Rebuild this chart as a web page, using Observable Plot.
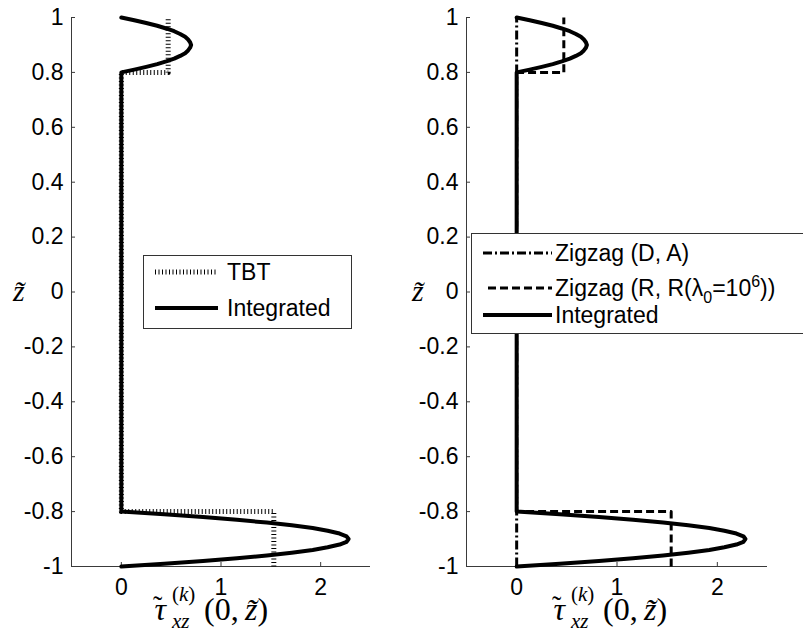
<!DOCTYPE html>
<html>
<head>
<meta charset="utf-8">
<script src="https://cdn.jsdelivr.net/npm/d3@7"></script>
<script src="https://cdn.jsdelivr.net/npm/@observablehq/plot@0.6"></script>
<style>
  body { margin: 0; background: #fff; }
  #wrap { position: relative; width: 803px; height: 634px; overflow: hidden; }
  .panel { position: absolute; top: 0; }
  #overlay { position: absolute; left: 0; top: 0; pointer-events: none; }
</style>
</head>
<body>
<div id="wrap"></div>
<script>
// ---- data ----
const zTicks = [-1, -0.8, -0.6, -0.4, -0.2, 0, 0.2, 0.4, 0.6, 0.8, 1];
const zTickLabels = ["-1", "-0.8", "-0.6", "-0.4", "-0.2", "0", "0.2", "0.4", "0.6", "0.8", "1"];
const xTicks = [0, 1, 2];
const xTickLabels = ["0", "1", "2"];

// Integrated solution: z~ positions and shear stress values
const intZ = [
  -1.00, -0.99, -0.98, -0.97, -0.96, -0.95, -0.94, -0.93, -0.92, -0.91, -0.90,
  -0.89, -0.88, -0.87, -0.86, -0.85, -0.84, -0.83, -0.82, -0.81, -0.80,
  0.80, 0.81, 0.82, 0.83, 0.84, 0.85, 0.86, 0.87, 0.88, 0.89, 0.90,
  0.91, 0.92, 0.93, 0.94, 0.95, 0.96, 0.97, 0.98, 0.99, 1.00
];
const intTau = [
  0, 0.43, 0.82, 1.16, 1.46, 1.71, 1.92, 2.07, 2.19, 2.26, 2.28,
  2.26, 2.19, 2.07, 1.92, 1.71, 1.46, 1.16, 0.82, 0.43, 0,
  0, 0.13, 0.25, 0.36, 0.45, 0.53, 0.59, 0.64, 0.67, 0.69, 0.70,
  0.69, 0.67, 0.64, 0.59, 0.53, 0.45, 0.36, 0.25, 0.13, 0
];

// TBT (left panel, dotted)
const tbtZ = [-1, -0.8, -0.8, 0.8, 0.8, 1];
const tbtTau = [1.53, 1.53, 0, 0, 0.47, 0.47];

// Zigzag (D, A) (right panel, dash-dot)
const zzdaZ = [-1, 1];
const zzdaTau = [0, 0];

// Zigzag (R, R(lambda0=1e6)) (right panel, dashed)
const zzrrZ = [-1, -0.8, -0.8, 0.8, 0.8, 1];
const zzrrTau = [1.54, 1.54, 0, 0, 0.47, 0.47];

// legend labels
const leftLegend = ["TBT", "Integrated"];
const rightLegend = ["Zigzag (D, A)", "Zigzag (R, R(λ0=10^6))", "Integrated"];

const toRows = (zs, ts) => zs.map((zt, i) => ({ zt, tau: ts[i] }));
const intRows = toRows(intZ, intTau);
const tbtRows = toRows(tbtZ, tbtTau);
const zzdaRows = toRows(zzdaZ, zzdaTau);
const zzrrRows = toRows(zzrrZ, zzrrTau);

const axisColor = "#3a3a3a";
const sansFont = "Arial, 'Liberation Sans', sans-serif";
const serifFont = "'Liberation Serif', 'DejaVu Serif', serif";
const DOT = "1,2.5", DASH = "8,4", DASHDOT = "9,3,2,3";

function panel(opts, seriesMarks) {
  return Plot.plot({
    width: opts.width,
    height: 634,
    marginLeft: opts.marginLeft,
    marginRight: opts.marginRight,
    marginTop: 17,
    marginBottom: 68,
    x: { domain: [-0.5, 2.5] },
    y: { domain: [-1, 1] },
    style: { fontFamily: sansFont, fontSize: "23px", color: "#000", background: "transparent" },
    marks: [
      Plot.ruleX([-0.5], { stroke: axisColor, strokeWidth: 1 }),
      Plot.ruleY([-1], { stroke: axisColor, strokeWidth: 1 }),
      Plot.axisY(zTicks, { tickSize: -4, tickPadding: 12, stroke: axisColor, fill: "#000", tickFormat: (d) => zTickLabels[zTicks.indexOf(d)], label: null }),
      Plot.axisX(xTicks, { tickSize: -4, tickPadding: 16, stroke: axisColor, fill: "#000", tickFormat: (d) => xTickLabels[xTicks.indexOf(d)], label: null }),
      ...seriesMarks
    ]
  });
}

const wrap = document.getElementById("wrap");

const left = panel({ width: 400, marginLeft: 71, marginRight: 30 }, [
  Plot.line(intRows, { x: "tau", y: "zt", stroke: "#000", strokeWidth: 4, strokeLinejoin: "round" }),
  Plot.line(tbtRows, { x: "tau", y: "zt", stroke: "#000", strokeWidth: 5, strokeDasharray: DOT, strokeLinecap: "butt" })
]);
left.classList.add("panel");
left.style.left = "0px";
wrap.appendChild(left);

const right = panel({ width: 403, marginLeft: 66, marginRight: 36 }, [
  Plot.line(zzdaRows, { x: "tau", y: "zt", stroke: "#000", strokeWidth: 3, strokeDasharray: DASHDOT, strokeLinecap: "butt" }),
  Plot.line(zzrrRows, { x: "tau", y: "zt", stroke: "#000", strokeWidth: 3, strokeDasharray: DASH, strokeLinecap: "butt" }),
  Plot.line(intRows, { x: "tau", y: "zt", stroke: "#000", strokeWidth: 4, strokeLinejoin: "round" })
]);
right.classList.add("panel");
right.style.left = "400px";
wrap.appendChild(right);

// ---- overlay: legends and axis titles ----
const svg = d3.select(wrap).append("svg")
  .attr("id", "overlay").attr("width", 803).attr("height", 634);

function drawLegend(box, items) {
  const g = svg.append("g");
  g.append("rect").attr("x", box.x + 0.5).attr("y", box.y + 0.5)
    .attr("width", box.w).attr("height", box.h)
    .attr("fill", "#fff").attr("stroke", "#333").attr("stroke-width", 1);
  for (const it of items) {
    g.append("line").attr("x1", it.x1).attr("x2", it.x2).attr("y1", it.y).attr("y2", it.y)
      .attr("stroke", "#000").attr("stroke-width", it.sw)
      .attr("stroke-dasharray", it.dash).attr("stroke-linecap", "butt");
    const t = g.append("text").attr("x", it.tx).attr("y", it.y + 8)
      .attr("font-family", sansFont).attr("font-size", 23).attr("fill", "#000");
    it.build(t);
  }
}

drawLegend({ x: 143, y: 255, w: 208, h: 73 }, [
  { y: 272, x1: 155, x2: 218, tx: 227, sw: 5, dash: DOT, build: (t) => t.text(leftLegend[0]) },
  { y: 308, x1: 155, x2: 218, tx: 227, sw: 4, dash: null, build: (t) => t.text(leftLegend[1]) }
]);

drawLegend({ x: 471, y: 233, w: 340, h: 100 }, [
  { y: 253, x1: 483, x2: 552, tx: 555, sw: 3, dash: DASHDOT, build: (t) => t.text(rightLegend[0]) },
  { y: 288, x1: 488, x2: 552, tx: 555, sw: 3, dash: DASH, build: (t) => {
      t.append("tspan").text("Zigzag (R, R(λ");
      t.append("tspan").attr("font-size", 16).attr("dy", 7).text("0");
      t.append("tspan").attr("dy", -7).text("=10");
      t.append("tspan").attr("font-size", 16).attr("dy", -9).text("6");
      t.append("tspan").attr("dy", 9).text("))");
    } },
  { y: 315, x1: 483, x2: 552, tx: 555, sw: 4, dash: null, build: (t) => t.text(rightLegend[2]) }
]);

function yTitle(x) {
  svg.append("text").attr("x", x).attr("y", 301)
    .attr("font-family", serifFont).attr("font-style", "italic").attr("font-size", 30)
    .attr("fill", "#000").text("z\u0303");
}
yTitle(13);
yTitle(412);

function xTitle(x0) {
  const base = 620;
  const g = svg.append("g").attr("font-family", serifFont).attr("fill", "#000");
  const tau = g.append("text").attr("x", x0).attr("y", base).attr("font-size", 32);
  tau.append("tspan").attr("font-style", "italic").text("\u03C4");
  tau.append("tspan").attr("dx", -13).attr("dy", -5).attr("font-size", 28).text("\u02DC");
  const sup = g.append("text").attr("x", x0 + 19).attr("y", base - 19).attr("font-size", 21);
  sup.append("tspan").text("(");
  sup.append("tspan").attr("font-style", "italic").text("k");
  sup.append("tspan").text(")");
  g.append("text").attr("x", x0 + 19).attr("y", base + 8).attr("font-size", 21).attr("font-style", "italic").text("xz");
  const main = g.append("text").attr("x", x0 + 51).attr("y", base).attr("font-size", 32);
  main.append("tspan").text("(0,\u2009");
  main.append("tspan").attr("font-style", "italic").text("z\u0303");
  main.append("tspan").text(")");
}
xTitle(153);
xTitle(552);
</script>
</body>
</html>
